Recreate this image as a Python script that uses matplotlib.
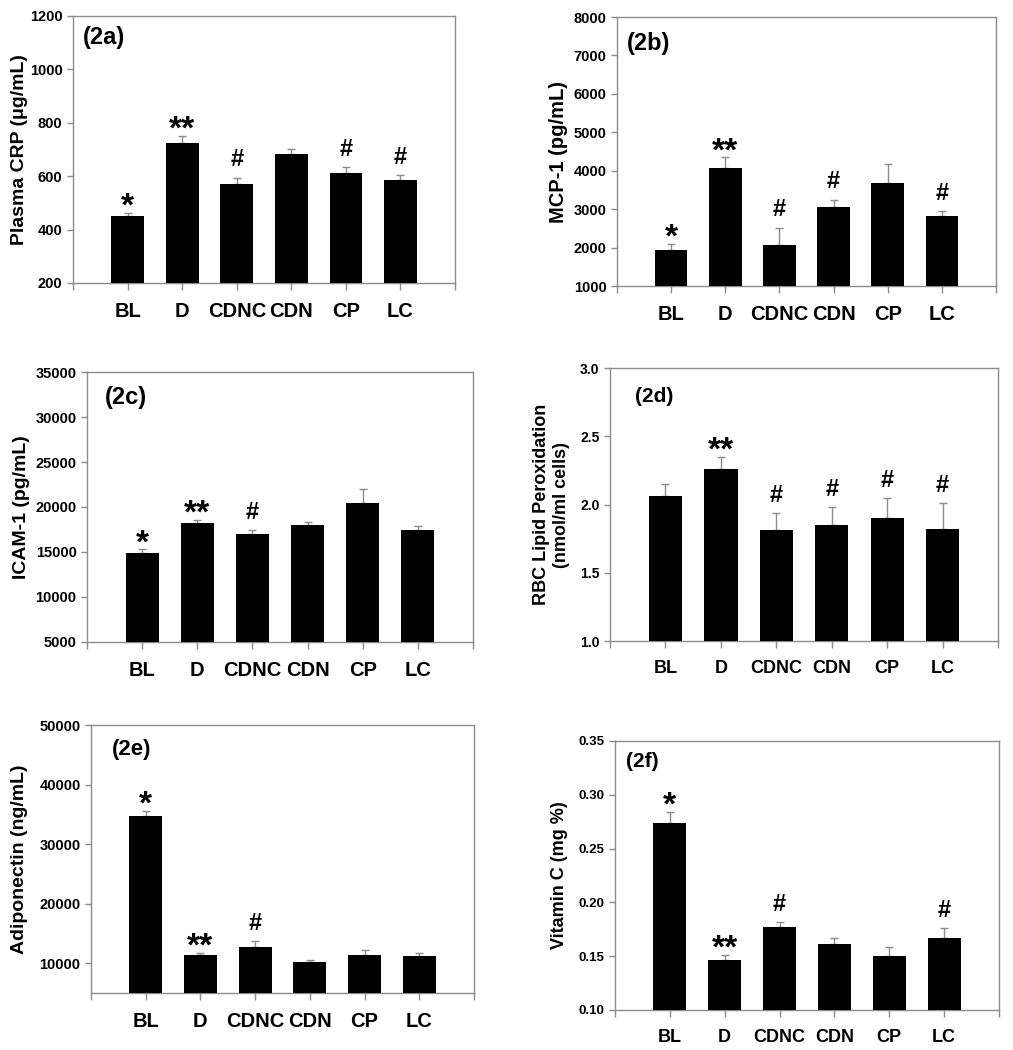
import numpy as np
import matplotlib

matplotlib.use("Agg")
import matplotlib.pyplot as plt

plt.rcParams["font.family"] = ["Liberation Sans", "DejaVu Sans"]
plt.rcParams["font.weight"] = "bold"

# ── Data ─────────────────────────────────────────────────────────────────────
groups = ["BL", "D", "CDNC", "CDN", "CP", "LC"]

crp_mean = [450, 726, 572, 684, 611, 584]
crp_err = [12, 25, 23, 17, 22, 21]
crp_marks = ["*", "**", "#", "", "#", "#"]

mcp_mean = [1930, 4070, 2080, 3050, 3690, 2820]
mcp_err = [170, 275, 440, 200, 475, 140]
mcp_marks = ["*", "**", "#", "#", "", "#"]

icam_mean = [14860, 18200, 17000, 18040, 20480, 17400]
icam_err = [440, 400, 400, 330, 1500, 520]
icam_marks = ["*", "**", "#", "", "", ""]

rbc_mean = [2.06, 2.26, 1.815, 1.85, 1.90, 1.82]
rbc_err = [0.09, 0.09, 0.12, 0.13, 0.15, 0.19]
rbc_marks = ["", "**", "#", "#", "#", "#"]

adipo_mean = [34800, 11450, 12800, 10220, 11450, 11230]
adipo_err = [720, 330, 950, 390, 830, 450]
adipo_marks = ["*", "**", "#", "", "", ""]

vitc_mean = [0.274, 0.146, 0.177, 0.161, 0.1506, 0.167]
vitc_err = [0.010, 0.005, 0.005, 0.006, 0.0083, 0.009]
vitc_marks = ["*", "**", "#", "", "", "#"]

GRAY = "#8c8c8c"

fig = plt.figure(figsize=(10.13, 10.50), dpi=100)


def panel(rect, means, errs, marks, tag, tag_xy, tag_size, ylabel, ylim, yticks,
          yfmt, label_off, ylab_size=14, xlab_size=14.5, ytick_size=10.5):
    ax = fig.add_axes(rect)
    x = np.arange(1, len(groups) + 1)
    ax.errorbar(x, means, yerr=[np.zeros(len(errs)), errs], fmt="none",
                ecolor=GRAY, elinewidth=1, capsize=3, capthick=1, zorder=2)
    ax.bar(x, means, width=0.6, color="black", zorder=3)

    # significance marks above the error bars
    for xi, m, e, s in zip(x, means, errs, marks):
        if not s:
            continue
        if "*" in s:
            ax.annotate(s, (xi, m + e), xytext=(0, -2), textcoords="offset points",
                        ha="center", va="baseline", fontsize=24, fontweight="bold")
        else:
            ax.annotate(s, (xi, m + e), xytext=(0, 8), textcoords="offset points",
                        ha="center", va="baseline", fontsize=17, fontweight="bold")

    ax.set_xlim(0, len(groups) + 1)
    ax.set_ylim(*ylim)
    ax.set_xticks(np.arange(0, len(groups) + 2))
    ax.set_xticklabels([""] + groups + [""], fontsize=xlab_size, fontweight="bold")
    ax.set_yticks(yticks)
    ax.set_yticklabels([yfmt.format(v) for v in yticks], fontsize=ytick_size,
                       fontweight="bold")
    ax.tick_params(axis="y", direction="out", length=4, color=GRAY, width=1)
    ax.tick_params(axis="x", direction="out", length=5, color=GRAY, width=1, pad=9)
    for sp in ax.spines.values():
        sp.set_color(GRAY)
        sp.set_linewidth(1)
    ax.set_ylabel(ylabel, fontsize=ylab_size, fontweight="bold")
    ax.yaxis.set_label_coords(label_off, 0.5)
    ax.text(tag_xy[0], tag_xy[1], tag, transform=ax.transAxes, ha="left",
            va="center", fontsize=tag_size, fontweight="bold")
    return ax


panel([0.0721, 0.7305, 0.3771, 0.2543], crp_mean, crp_err, crp_marks, "(2a)",
      (0.026, 0.918), 17, "Plasma CRP (\u03bcg/mL)", (200, 1200),
      [200, 400, 600, 800, 1000, 1200], "{:.0f}", -0.118)

panel([0.6091, 0.7276, 0.3741, 0.2562], mcp_mean, mcp_err, mcp_marks, "(2b)",
      (0.026, 0.903), 17, "MCP-1 (pg/mL)", (1000, 8000),
      [1000, 2000, 3000, 4000, 5000, 6000, 7000, 8000], "{:.0f}", -0.129,
      ylab_size=14.5)

panel([0.0859, 0.3886, 0.3810, 0.2571], icam_mean, icam_err, icam_marks, "(2c)",
      (0.047, 0.907), 17, "ICAM-1 (pg/mL)", (5000, 35000),
      [5000, 10000, 15000, 20000, 25000, 30000, 35000], "{:.0f}", -0.148)

panel([0.6022, 0.3895, 0.3830, 0.2600], rbc_mean, rbc_err, rbc_marks, "(2d)",
      (0.064, 0.894), 15, "RBC Lipid Peroxidation\n(nmol/ml cells)", (1.0, 3.0),
      [1.0, 1.5, 2.0, 2.5, 3.0], "{:.1f}", -0.103,
      ylab_size=13, xlab_size=13, ytick_size=10)

panel([0.0898, 0.0543, 0.3781, 0.2552], adipo_mean, adipo_err, adipo_marks, "(2e)",
      (0.055, 0.907), 16, "Adiponectin (ng/mL)", (5000, 50000),
      [10000, 20000, 30000, 40000, 50000], "{:.0f}", -0.164)

panel([0.6071, 0.0381, 0.3791, 0.2562], vitc_mean, vitc_err, vitc_marks, "(2f)",
      (0.029, 0.922), 15, "Vitamin C (mg %)", (0.10, 0.35),
      [0.10, 0.15, 0.20, 0.25, 0.30, 0.35], "{:.2f}", -0.122,
      ylab_size=13, xlab_size=13, ytick_size=9.5)

fig.savefig("out.png", dpi=100)
